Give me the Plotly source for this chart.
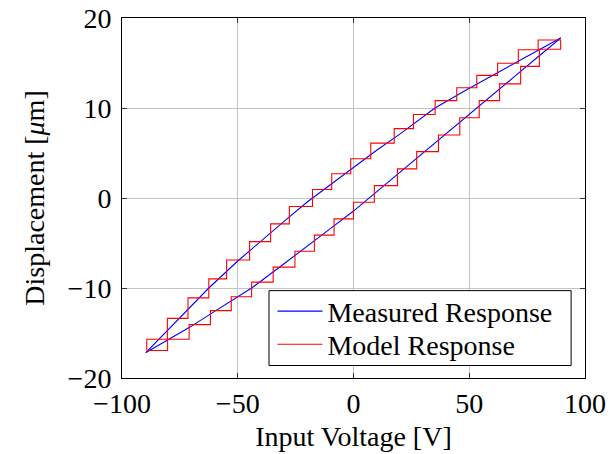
import plotly.graph_objects as go

# Measured response: ascending (lower) branch and descending (upper) branch, x increasing
meas_lower_x = [-89.8, -80, -71, -60, -50, -44, -30, -20, -10, 0, 6.7, 20, 30, 40, 50, 60, 70, 80, 89.6]
meas_lower_y = [-17.2, -15.75, -14.4, -12.6, -11.0, -10.0, -7.3, -5.4, -3.4, -1.45, 0, 2.85, 5.0, 7.15, 9.3, 11.45, 13.6, 15.75, 17.8]
meas_upper_x = [-89.8, -80, -70, -62.5, -50, -40, -30, -20, -13.3, 0, 10, 20, 35.2, 50, 60, 70, 80, 89.6]
meas_upper_y = [-17.2, -14.6, -11.95, -10.0, -7.0, -4.8, -2.6, -0.45, 0.92, 3.4, 5.3, 7.1, 10.0, 12.2, 13.65, 15.05, 16.45, 17.8]

# Model response (staircase): switching voltages and plateau levels
model_lower_x = [-89.3, -80.3, -71.0, -61.8, -52.8, -44.0, -34.7, -25.3, -16.9, -8.4, 0.0,
                 9.0, 19.0, 27.3, 36.7, 45.9, 54.3, 63.1, 72.2, 80.3, 89.5]
model_lower_y = [-16.95, -15.7, -14.07, -12.51, -10.98, -9.35, -7.68, -5.91, -4.13, -2.32,
                 -0.47, 1.38, 3.24, 5.15, 7.0, 8.92, 10.82, 12.68, 14.63, 16.52]
model_upper_x = [-89.3, -80.4, -71.5, -62.5, -54.8, -44.9, -35.8, -27.7, -17.7, -9.4, -1.2,
                 7.45, 17.6, 25.9, 35.25, 44.6, 53.25, 62.25, 71.2, 79.75, 89.5]
model_upper_y = [-15.7, -13.37, -11.1, -8.99, -6.89, -4.85, -2.87, -0.95, 0.94, 2.7,
                 4.36, 6.1, 7.71, 9.28, 10.82, 12.25, 13.62, 14.98, 16.48, 17.56]
model_start_y = -16.95
model_top_y = 17.56

x_ticks = [-100, -50, 0, 50, 100]
y_ticks = [-20, -10, 0, 10, 20]

# closed loops
mx = meas_lower_x + meas_upper_x[::-1]
my = meas_lower_y + meas_upper_y[::-1]

rx = list(model_lower_x)
ry = list(model_lower_y) + [model_top_y]
n = len(model_upper_x)
for i in range(n - 1, 0, -1):
    rx.append(model_upper_x[i])
    ry.append(model_upper_y[i - 1] if i < n - 1 else model_top_y)
rx.append(model_upper_x[0])
ry.append(model_start_y)

fig = go.Figure()
fig.add_trace(go.Scatter(x=mx, y=my, mode="lines", name="Measured Response", showlegend=True,
                         line=dict(color="#0000ff", width=1.1), legend="legend"))
fig.add_trace(go.Scatter(x=rx, y=ry, mode="lines", name="Model Response", showlegend=True,
                         line=dict(color="#ff0000", width=1.1, shape="hv"), legend="legend2"))

FONT = "Liberation Serif"
FS = 28
axis_common = dict(
    showgrid=True, gridcolor="#c4c4c4", gridwidth=1,
    showline=True, linecolor="black", linewidth=1, mirror="ticks",
    ticks="inside", ticklen=5, tickcolor="#333333", tickwidth=1,
    zeroline=False, automargin=False,
    tickfont=dict(family=FONT, size=FS, color="black"),
)
fig.update_xaxes(range=[-100, 100], tickvals=x_ticks,
                 title=dict(text="Input Voltage [V]", font=dict(family=FONT, size=FS), standoff=8),
                 **axis_common)
fig.update_yaxes(range=[-20, 20], tickvals=y_ticks, ticklabelstandoff=4,
                 title=dict(text="Displacement [<i>μ</i>m]", font=dict(family=FONT, size=FS), standoff=14),
                 **axis_common)

leg_common = dict(xanchor="left", yanchor="middle", x=0.325,
                  bgcolor="rgba(0,0,0,0)", borderwidth=0,
                  font=dict(family=FONT, size=FS), itemwidth=45)

fig.update_layout(
    width=615, height=454,
    margin=dict(l=122, r=30, t=18, b=75.5),
    plot_bgcolor="white", paper_bgcolor="white",
    font=dict(family=FONT, size=FS, color="black"),
    showlegend=True,
    legend=dict(y=0.185, **leg_common),
    legend2=dict(y=0.093, **leg_common),
    shapes=[dict(type="rect", xref="paper", yref="paper",
                 x0=0.3175, x1=0.970, y0=0.0347, y1=0.2427,
                 line=dict(color="black", width=1), fillcolor="white", layer="above")],
)
fig.write_html("out.html", config={"displayModeBar": False},
               post_script="document.body.style.margin='0';")
